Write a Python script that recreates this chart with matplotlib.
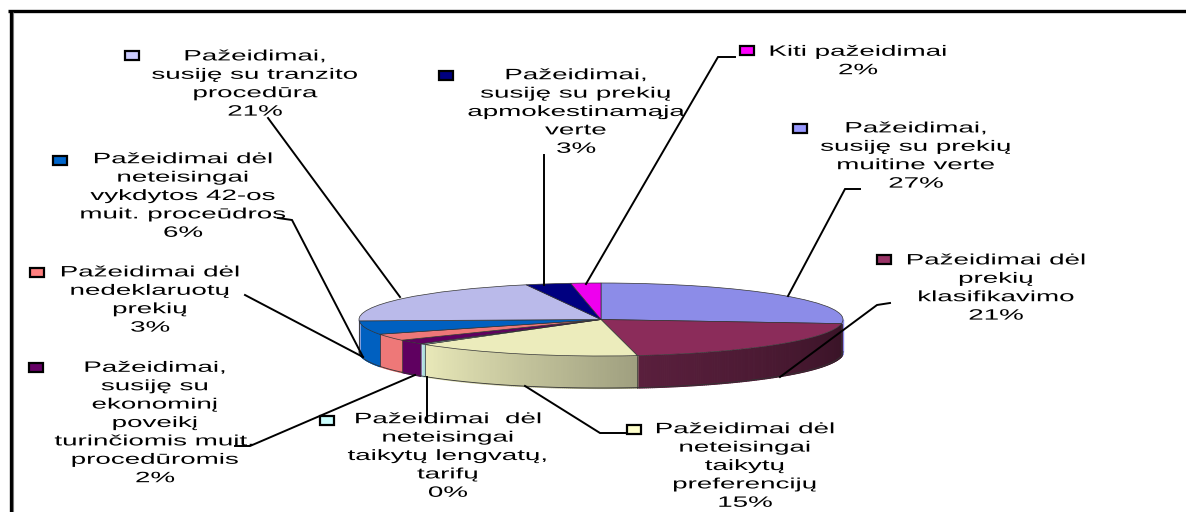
import numpy as np
import matplotlib
matplotlib.use("Agg")
import matplotlib.pyplot as plt
from matplotlib.colors import to_rgb
from matplotlib.patches import Rectangle
from matplotlib.patheffects import AbstractPathEffect
from matplotlib.transforms import Affine2D

# slices, clockwise from the top of the pie
categories = [
    "Pažeidimai,\nsusiję su prekių\nmuitine verte",
    "Pažeidimai dėl\nprekių\nklasifikavimo",
    "Pažeidimai dėl\nneteisingai\ntaikytų\npreferencijų",
    "Pažeidimai  dėl\nneteisingai\ntaikytų lengvatų,\ntarifų",
    "Pažeidimai,\nsusiję su\nekonominį\npoveikį\nturinčiomis muit.\nprocedūromis",
    "Pažeidimai dėl\nnedeklaruotų\nprekių",
    "Pažeidimai dėl\nneteisingai\nvykdytos 42-os\nmuit. proceūdros",
    "Pažeidimai,\nsusiję su tranzito\nprocedūra",
    "Pažeidimai,\nsusiję su prekių\napmokestinamąja\nverte",
    "Kiti pažeidimai",
]
values = [26.8, 20.8, 15.4, 0.4, 2, 3, 6, 20.6, 3, 2]
percent_labels = ["27%", "21%", "15%", "0%", "2%", "3%", "6%", "21%", "3%", "2%"]

top_colors = ["#8C8CE8", "#8B2C5A", "#ECECBC", "#C4F0F0", "#5F0060",
              "#EE7878", "#0060C0", "#BABAEA", "#000080", "#EE00EE"]
wall_start = ["#8C8CE8", "#5A1F3D", "#E9E9B9", "#C4F0F0", "#5F0060",
              "#EE7878", "#0060C0", "#BABAEA", "#000080", "#EE00EE"]
wall_end = ["#8C8CE8", "#381326", "#9F9F7F", "#A8D8D8", "#5F0060",
            "#EE7878", "#0060C0", "#BABAEA", "#000080", "#EE00EE"]
key_colors = ["#9999FF", "#993366", "#FFFFCC", "#CCFFFF", "#660066",
              "#FF8080", "#0066CC", "#CCCCFF", "#000080", "#FF00FF"]

# layout in pixels: label centre x, block centre y, key x, key y
label_layout = [
    (916, 156, 800, 128),
    (996, 288, 884, 259),
    (745, 466, 634, 429),
    (448, 456, 327, 420),
    (155, 423, 36, 367),
    (150, 300, 37, 272),
    (183, 196, 60, 160),
    (255, 84, 132, 55),
    (576, 112, 446, 75),
    (858, 61, 747, 50),
]
leaders = [
    ([860, 845, 788], [189, 189, 296]),
    ([890, 877, 780], [303, 305, 377]),
    ([625, 600, 525], [433, 433, 386]),
    ([427, 427], [377, 422]),
    ([235, 250, 415], [446, 446, 375]),
    ([245, 363], [295, 357]),
    ([278, 292, 363], [218, 220, 357]),
    ([268, 400], [118, 297]),
    ([544, 544], [155, 285]),
    ([735, 718, 586], [57, 57, 284]),
]

W, H = 1186, 512
PIE_LEFT, PIE_RIGHT, PIE_TOP, PIE_BOTTOM = 359, 843, 283, 356
WALL_DEPTH = 32 / 36.5  # in pie axes units


class StretchX(AbstractPathEffect):
    """The source text is drawn about twice as wide as it is tall."""

    def __init__(self, center_x, factor):
        super().__init__()
        self.center_x = center_x
        self.factor = factor

    def draw_path(self, renderer, gc, tpath, affine, rgbFace=None):
        stretch = Affine2D().translate(-self.center_x, 0).scale(self.factor, 1).translate(self.center_x, 0)
        renderer.draw_path(gc, tpath, affine + stretch, rgbFace)


def draw_walls(ax, values):
    """Draw the visible side of the pie below the front edge of each slice."""
    edges = 90 - 360 * np.cumsum([0] + values) / sum(values)
    for i in range(len(values)):
        hi, lo = edges[i], edges[i + 1]
        angles = np.linspace(hi, lo, int(hi - lo) * 2 + 2)
        start = np.array(to_rgb(wall_start[i]))
        end = np.array(to_rgb(wall_end[i]))
        for a, b in zip(angles[:-1], angles[1:]):
            if np.sin(np.radians(a)) > 0 and np.sin(np.radians(b)) > 0:
                continue
            t = np.radians([a, b])
            f = (a - lo) / max(hi - lo, 1e-6)  # 1 on the right hand side
            colour = start + (end - start) * f
            ax.fill_between(np.cos(t), np.sin(t), np.sin(t) - WALL_DEPTH, color=colour,
                            lw=0.8, antialiased=False, clip_on=False, zorder=1)
        t = np.radians(np.linspace(hi, lo, 60))
        t = t[np.sin(t) <= 0.02]
        if len(t):
            ax.plot(np.cos(t), np.sin(t) - WALL_DEPTH, color="#333333", lw=0.6, clip_on=False, zorder=2)
            ax.plot([np.cos(t[-1])] * 2, [np.sin(t[-1]), np.sin(t[-1]) - WALL_DEPTH],
                    color="#333333", lw=0.5, clip_on=False, zorder=2)


fig = plt.figure(figsize=(W / 100, H / 100), dpi=100, facecolor="white")

# pie axes fit the ellipse of the top face
ax = fig.add_axes([PIE_LEFT / W, 1 - PIE_BOTTOM / H, (PIE_RIGHT - PIE_LEFT) / W, (PIE_BOTTOM - PIE_TOP) / H])
draw_walls(ax, values)
ax.pie(values, colors=top_colors, startangle=90, counterclock=False, radius=1,
       wedgeprops={"edgecolor": "#333333", "linewidth": 0.5, "clip_on": False, "zorder": 3})
ax.set_aspect("auto")
ax.set_xlim(-1, 1)
ax.set_ylim(-1, 1)
ax.axis("off")

# overlay in pixel coordinates for the labels, leaders and frame
over = fig.add_axes([0, 0, 1, 1], zorder=5)
over.set_xlim(0, W)
over.set_ylim(H, 0)
over.axis("off")
over.patch.set_alpha(0)

over.plot([8, W], [11, 11], color="black", lw=2.4, solid_capstyle="butt")
over.plot([10.5, 10.5], [10, H], color="black", lw=2.4, solid_capstyle="butt")
over.plot([13, 13], [12, H], color="#777777", lw=0.8, solid_capstyle="butt")

for xs, ys in leaders:
    over.plot(xs, ys, color="black", lw=1.4, solid_joinstyle="miter")

for cat, pct, (cx, cy, kx, ky), key in zip(categories, percent_labels, label_layout, key_colors):
    over.text(cx, cy, cat + "\n" + pct, ha="center", va="center", multialignment="center",
              family="Liberation Sans", fontsize=10.8, linespacing=1.4, color="black",
              path_effects=[StretchX(cx, 1.85)])
    over.add_patch(Rectangle((kx - 7, ky - 4.5), 14, 9, facecolor=key, edgecolor="black", lw=1.6))

fig.savefig("out.png", dpi=100)
